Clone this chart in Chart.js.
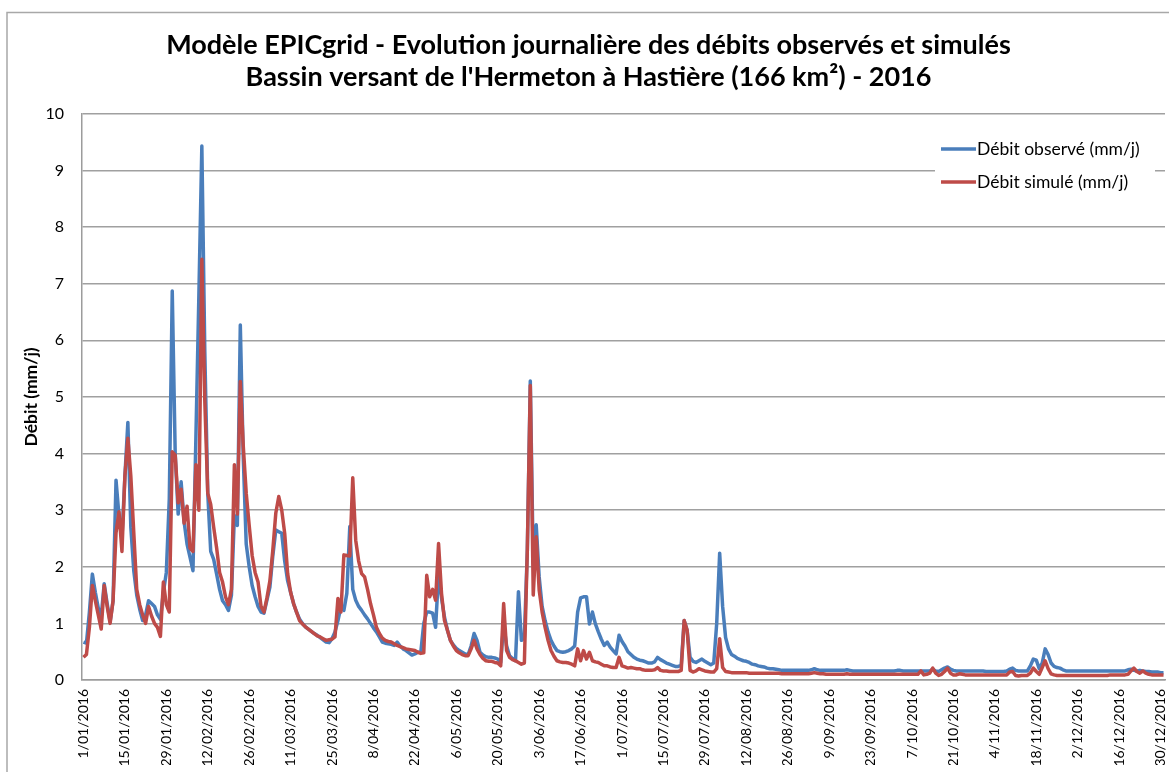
<!DOCTYPE html>
<html lang="fr">
<head>
<meta charset="utf-8">
<title>Débits Hermeton 2016</title>
<script src="https://cdn.jsdelivr.net/npm/chart.js@4.4.1/dist/chart.umd.min.js"></script>
<style>
  html, body { margin: 0; padding: 0; background: #fff; }
  #wrap { width: 1169px; height: 772px; }
</style>
</head>
<body>
<div id="wrap"><canvas id="debitChart" width="1169" height="772"></canvas></div>
<script>
const titre = [
  "Modèle EPICgrid - Evolution journalière des débits observés et simulés",
  "Bassin versant de l'Hermeton à Hastière (166 km²) - 2016"
];
const nomsSeries = ["Débit observé (mm/j)", "Débit simulé (mm/j)"];
const titreAxeY = "Débit (mm/j)";

// dates affichées sous l'axe (une tous les 14 jours)
const etiquettesX = [
  "1/01/2016", "15/01/2016", "29/01/2016", "12/02/2016", "26/02/2016", "11/03/2016",
  "25/03/2016", "8/04/2016", "22/04/2016", "6/05/2016", "20/05/2016", "3/06/2016",
  "17/06/2016", "1/07/2016", "15/07/2016", "29/07/2016", "12/08/2016", "26/08/2016",
  "9/09/2016", "23/09/2016", "7/10/2016", "21/10/2016", "4/11/2016", "18/11/2016",
  "2/12/2016", "16/12/2016", "30/12/2016"
];
const ticksY = [0, 1, 2, 3, 4, 5, 6, 7, 8, 9, 10];

// débits journaliers (mm/j), 1 valeur par jour du 1/01 au 31/12
const debitObserve = [
  0.67, 0.65, 1.2, 1.87, 1.55, 1.27, 1.13, 1.7, 1.35, 1.03,
  1.4, 3.53, 2.9, 2.5, 3.6, 4.55, 2.7, 1.93, 1.5, 1.25,
  1.05, 1.15, 1.4, 1.35, 1.3, 1.15, 1.07, 1.55, 1.9, 3.2,
  6.87, 4.0, 2.93, 3.5, 2.8, 2.4, 2.17, 1.93, 4.3, 6.8,
  9.43, 5.8, 3.3, 2.27, 2.13, 1.87, 1.6, 1.4, 1.33, 1.23,
  1.5, 2.9, 2.73, 6.27, 3.93, 2.4, 2.0, 1.67, 1.47, 1.3,
  1.2, 1.18, 1.41, 1.64, 2.2, 2.65, 2.62, 2.59, 2.1, 1.75,
  1.55, 1.35, 1.2, 1.08, 1.0, 0.94, 0.9, 0.86, 0.82, 0.79,
  0.75, 0.71, 0.67, 0.66, 0.73, 0.85, 1.05, 1.29, 1.23, 1.53,
  2.71, 1.6, 1.41, 1.3, 1.23, 1.15, 1.08, 1.0, 0.92, 0.85,
  0.76, 0.67, 0.65, 0.64, 0.63, 0.61, 0.67, 0.6, 0.55, 0.52,
  0.48, 0.44, 0.46, 0.49, 0.49, 1.0, 1.2, 1.2, 1.18, 0.93,
  1.88, 1.45, 1.11, 0.88, 0.7, 0.62, 0.56, 0.52, 0.49, 0.46,
  0.45, 0.6, 0.82, 0.7, 0.49, 0.44, 0.41, 0.4, 0.4, 0.39,
  0.37, 0.31, 1.0, 0.6, 0.43, 0.38, 0.34, 1.56, 0.7, 0.75,
  2.3, 5.28, 2.06, 2.74, 1.82, 1.3, 1.05, 0.85, 0.7, 0.6,
  0.52, 0.5, 0.49, 0.5, 0.52, 0.55, 0.6, 1.2, 1.45, 1.47,
  1.47, 0.99, 1.2, 0.99, 0.85, 0.72, 0.61, 0.67, 0.58, 0.52,
  0.46, 0.79, 0.68, 0.6, 0.5, 0.45, 0.4, 0.37, 0.35, 0.34,
  0.32, 0.3, 0.3, 0.32, 0.4, 0.36, 0.33, 0.3, 0.28, 0.26,
  0.24, 0.24, 0.26, 1.05, 0.88, 0.4, 0.33, 0.31, 0.34, 0.37,
  0.33, 0.3, 0.27, 0.3, 1.0, 2.24, 1.3, 0.75, 0.55, 0.45,
  0.42, 0.38, 0.36, 0.34, 0.33, 0.31, 0.28, 0.27, 0.25, 0.24,
  0.23, 0.21, 0.2, 0.2, 0.19, 0.18, 0.17, 0.17, 0.17, 0.17,
  0.17, 0.17, 0.17, 0.17, 0.17, 0.17, 0.18, 0.2, 0.18, 0.17,
  0.17, 0.17, 0.17, 0.17, 0.17, 0.17, 0.17, 0.17, 0.18, 0.17,
  0.16, 0.16, 0.16, 0.16, 0.16, 0.16, 0.16, 0.16, 0.16, 0.16,
  0.16, 0.16, 0.16, 0.16, 0.16, 0.17, 0.17, 0.16, 0.16, 0.16,
  0.16, 0.16, 0.16, 0.16, 0.16, 0.16, 0.16, 0.19, 0.16, 0.15,
  0.18, 0.21, 0.23, 0.19, 0.17, 0.16, 0.16, 0.16, 0.16, 0.16,
  0.16, 0.16, 0.16, 0.16, 0.16, 0.15, 0.15, 0.15, 0.15, 0.15,
  0.15, 0.15, 0.16, 0.19, 0.21, 0.17, 0.16, 0.16, 0.16, 0.16,
  0.25, 0.37, 0.35, 0.2, 0.3, 0.55, 0.45, 0.3, 0.24, 0.22,
  0.21, 0.18, 0.16, 0.16, 0.16, 0.16, 0.16, 0.16, 0.16, 0.16,
  0.16, 0.16, 0.16, 0.16, 0.16, 0.16, 0.16, 0.16, 0.16, 0.16,
  0.16, 0.16, 0.16, 0.18, 0.19, 0.17, 0.16, 0.17, 0.16, 0.15,
  0.15, 0.14, 0.14, 0.14, 0.13, 0.13
];

const debitSimule = [
  0.4, 0.45, 0.93, 1.67, 1.4, 1.15, 0.9, 1.67, 1.3, 1.0,
  1.4, 2.6, 2.97, 2.27, 3.6, 4.27, 3.6, 2.6, 1.6, 1.33,
  1.15, 1.0, 1.3, 1.13, 1.0, 0.93, 0.77, 1.73, 1.33, 1.2,
  4.03, 3.97, 3.13, 3.37, 2.77, 3.07, 2.33, 2.27, 3.8, 3.0,
  7.43, 4.93, 3.3, 3.1, 2.7, 2.33, 1.9, 1.73, 1.47, 1.33,
  1.6, 3.8, 2.93, 5.27, 4.13, 3.3, 2.73, 2.2, 1.9, 1.73,
  1.3, 1.2, 1.45, 1.75, 2.3, 2.95, 3.24, 3.0, 2.59, 1.88,
  1.55, 1.35, 1.2, 1.05, 0.99, 0.94, 0.9, 0.86, 0.82, 0.78,
  0.76, 0.73, 0.7, 0.71, 0.72, 0.76, 1.44, 1.2, 2.21, 2.2,
  2.19, 3.57, 2.47, 2.1, 1.88, 1.82, 1.6, 1.35, 1.15, 0.93,
  0.82, 0.74, 0.7, 0.68, 0.67, 0.64, 0.61, 0.59, 0.57, 0.55,
  0.54, 0.53, 0.52, 0.49, 0.47, 0.48, 1.85, 1.47, 1.6, 1.41,
  2.41, 1.53, 1.05, 0.88, 0.7, 0.6, 0.52, 0.48, 0.45, 0.43,
  0.43, 0.55, 0.7, 0.55, 0.45, 0.38, 0.34, 0.33, 0.33, 0.31,
  0.3, 0.25, 1.35, 0.52, 0.4, 0.36, 0.34, 0.31, 0.28, 0.3,
  2.3, 5.2, 1.5, 2.53, 1.59, 1.2, 0.93, 0.7, 0.52, 0.42,
  0.34, 0.32, 0.31, 0.31, 0.3, 0.28, 0.25, 0.55, 0.34, 0.52,
  0.37, 0.49, 0.34, 0.32, 0.31, 0.28, 0.25, 0.25, 0.23, 0.22,
  0.22, 0.4, 0.25, 0.23, 0.21, 0.22, 0.21, 0.2, 0.2, 0.18,
  0.17, 0.17, 0.17, 0.18, 0.22, 0.17, 0.16, 0.16, 0.15, 0.15,
  0.15, 0.15, 0.17, 1.05, 0.88, 0.17, 0.14, 0.16, 0.2, 0.18,
  0.16, 0.15, 0.14, 0.14, 0.2, 0.73, 0.22, 0.15, 0.14, 0.13,
  0.13, 0.13, 0.13, 0.13, 0.13, 0.12, 0.12, 0.12, 0.12, 0.12,
  0.12, 0.12, 0.12, 0.12, 0.12, 0.12, 0.11, 0.11, 0.11, 0.11,
  0.11, 0.11, 0.11, 0.11, 0.11, 0.11, 0.12, 0.13, 0.12, 0.11,
  0.11, 0.1, 0.1, 0.1, 0.1, 0.1, 0.1, 0.1, 0.11, 0.1,
  0.1, 0.1, 0.1, 0.1, 0.1, 0.1, 0.1, 0.1, 0.1, 0.1,
  0.1, 0.1, 0.1, 0.1, 0.1, 0.1, 0.1, 0.1, 0.1, 0.1,
  0.1, 0.1, 0.1, 0.16, 0.09, 0.1, 0.12, 0.21, 0.12, 0.08,
  0.1, 0.15, 0.21, 0.12, 0.09, 0.09, 0.11, 0.1, 0.09, 0.09,
  0.09, 0.09, 0.09, 0.09, 0.09, 0.09, 0.09, 0.09, 0.09, 0.09,
  0.09, 0.09, 0.09, 0.14, 0.15, 0.08, 0.07, 0.08, 0.08, 0.08,
  0.12, 0.21, 0.15, 0.1, 0.22, 0.34, 0.2, 0.11, 0.09, 0.08,
  0.08, 0.08, 0.08, 0.08, 0.08, 0.08, 0.08, 0.08, 0.08, 0.08,
  0.08, 0.08, 0.08, 0.08, 0.08, 0.08, 0.08, 0.09, 0.09, 0.09,
  0.09, 0.09, 0.09, 0.1, 0.16, 0.21, 0.15, 0.12, 0.16, 0.12,
  0.1, 0.09, 0.09, 0.09, 0.09, 0.09
];

const couleurObs = "#4a7ebb";
const couleurSim = "#be4b48";
const police = "Lato, 'Liberation Sans', sans-serif";

// une catégorie par jour de 2016, libellé au format j/mm/aaaa
const jours = debitObserve.map((_, i) => {
  const d = new Date(2016, 0, 1 + i);
  return d.getDate() + "/" + String(d.getMonth() + 1).padStart(2, "0") + "/" + d.getFullYear();
});

// cadre du graphique + légende posée dans la zone de tracé
const cadre = {
  id: "cadre",
  beforeDraw(chart) {
    const ctx = chart.ctx;
    ctx.save();
    ctx.fillStyle = "#fff";
    ctx.fillRect(0, 0, chart.width, chart.height);
    ctx.strokeStyle = "#a8a8a8";
    ctx.lineWidth = 1.5;
    ctx.beginPath();
    ctx.moveTo(7, chart.height);
    ctx.lineTo(7, 12.5);
    ctx.lineTo(chart.width, 12.5);
    ctx.stroke();
    ctx.restore();
  },
  afterDatasetsDraw(chart) {
    const ctx = chart.ctx;
    const x = 935, y = 135;
    ctx.save();
    ctx.fillStyle = "#fff";
    ctx.fillRect(x, y, 220, 62);
    ctx.font = "17.5px " + police;
    ctx.textBaseline = "middle";
    chart.data.datasets.forEach((ds, i) => {
      const ly = y + 14 + i * 33;
      ctx.strokeStyle = ds.borderColor;
      ctx.lineWidth = 3.5;
      ctx.beginPath();
      ctx.moveTo(x + 6, ly);
      ctx.lineTo(x + 41, ly);
      ctx.stroke();
      ctx.fillStyle = "#000";
      ctx.fillText(ds.label, x + 42, ly);
    });
    ctx.restore();
  }
};

new Chart(document.getElementById("debitChart"), {
  type: "line",
  data: {
    labels: jours,
    datasets: [
      { label: nomsSeries[0], data: debitObserve, borderColor: couleurObs, order: 1 },
      { label: nomsSeries[1], data: debitSimule, borderColor: couleurSim, order: 0 }
    ]
  },
  options: {
    responsive: false,
    animation: false,
    devicePixelRatio: 1,
    layout: { padding: { left: 12, right: 4, top: 0, bottom: 7 } },
    elements: {
      point: { radius: 0 },
      line: { borderWidth: 3.5, tension: 0, borderJoinStyle: "round", fill: false }
    },
    plugins: {
      legend: { display: false },
      tooltip: { enabled: false },
      title: {
        display: true,
        text: titre,
        color: "#000",
        font: { family: police, size: 27, weight: "bold", lineHeight: 1.2 },
        padding: { top: 29, bottom: 20 }
      }
    },
    scales: {
      x: {
        offset: true,
        grid: { display: false, drawTicks: false },
        border: { color: "#9c9c9c", width: 1.5 },
        ticks: {
          autoSkip: false,
          minRotation: 90,
          maxRotation: 90,
          padding: 9,
          color: "#000",
          font: { family: police, size: 14 },
          callback(v) {
            const l = this.getLabelForValue(v);
            return etiquettesX.includes(l) ? l : "";
          }
        },
        afterFit(scale) {
          scale.height = 85;
          scale.paddingLeft = 0;
          scale.paddingRight = 0;
        }
      },
      y: {
        min: 0,
        max: 10,
        afterBuildTicks(scale) {
          scale.ticks = ticksY.map(v => ({ value: v }));
        },
        grid: { color: "#a0a0a0", lineWidth: 1.5, drawTicks: false },
        border: { color: "#9c9c9c", width: 1.5 },
        ticks: { padding: 18, color: "#000", font: { family: police, size: 16 } },
        title: {
          display: true,
          text: titreAxeY,
          color: "#000",
          font: { family: police, size: 17.5, weight: "bold" },
          padding: { top: 9, bottom: 0 }
        },
        afterFit(scale) {
          scale.width = 70;
          scale.paddingTop = 0;
          scale.paddingBottom = 0;
        }
      }
    }
  },
  plugins: [cadre]
});
</script>
</body>
</html>
